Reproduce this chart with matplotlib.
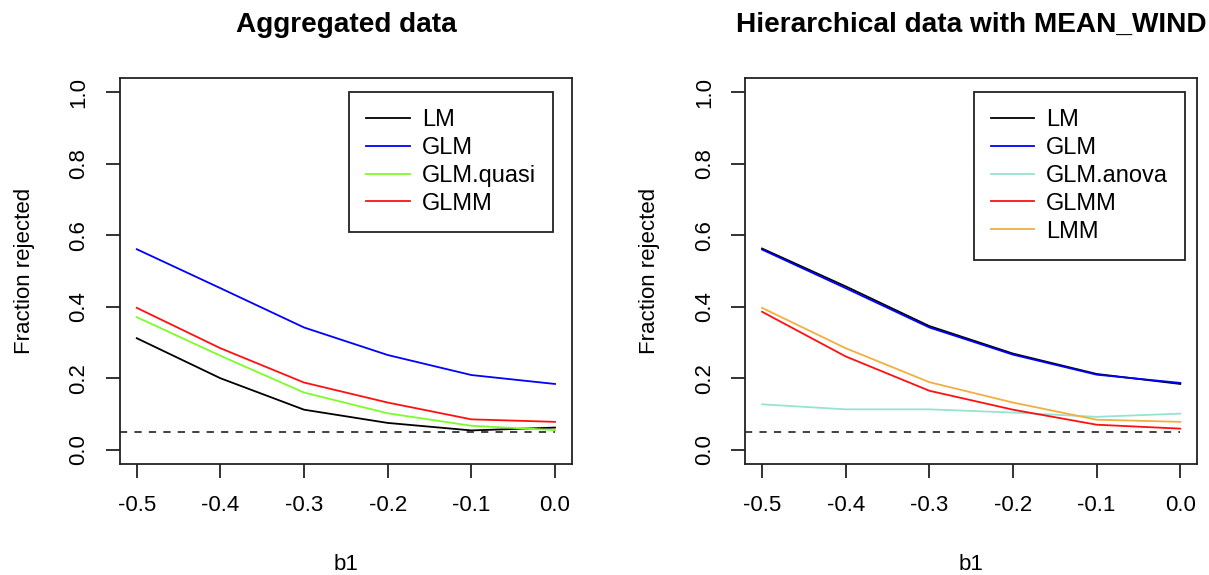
import matplotlib
matplotlib.use("Agg")
import matplotlib.pyplot as plt

# Daten
b1 = [-0.5, -0.4, -0.3, -0.2, -0.1, 0.0]

# Linke Grafik: aggregierte Daten
agg_lm = [0.312, 0.200, 0.112, 0.075, 0.054, 0.062]
agg_glm = [0.561, 0.452, 0.342, 0.265, 0.209, 0.184]
agg_glm_quasi = [0.371, 0.263, 0.160, 0.102, 0.067, 0.055]
agg_glmm = [0.397, 0.284, 0.188, 0.132, 0.085, 0.078]

# Rechte Grafik: hierarchische Daten
hier_lm = [0.563, 0.457, 0.346, 0.269, 0.212, 0.184]
hier_glm = [0.560, 0.452, 0.342, 0.266, 0.210, 0.187]
hier_glm_anova = [0.127, 0.113, 0.113, 0.104, 0.092, 0.101]
hier_glmm = [0.386, 0.261, 0.165, 0.112, 0.070, 0.059]
hier_lmm = [0.397, 0.284, 0.189, 0.132, 0.084, 0.078]

alpha = 0.05
xticks = [-0.5, -0.4, -0.3, -0.2, -0.1, 0.0]
yticks = [0.0, 0.2, 0.4, 0.6, 0.8, 1.0]

plt.rcParams["font.family"] = ["Liberation Sans", "DejaVu Sans"]
FS = 16
LW = 1.3

fig = plt.figure(figsize=(12.09, 5.75), dpi=100)
ax1 = fig.add_axes([0.0993, 0.193, 0.3736, 0.6713])
ax2 = fig.add_axes([0.6165, 0.193, 0.3736, 0.6713])


def style_axis(ax, title):
    ax.set_xlim(-0.52, 0.02)
    ax.set_ylim(-0.04, 1.04)
    ax.set_xticks(xticks)
    ax.set_xticklabels([f"{t:.1f}" for t in xticks])
    ax.set_yticks(yticks)
    ax.set_yticklabels([f"{t:.1f}" for t in yticks], rotation=90, va="center")
    ax.tick_params(direction="out", length=10, width=LW, labelsize=FS, color="#222222")
    ax.tick_params(axis="x", pad=12)
    ax.tick_params(axis="y", pad=12)
    for sp in ax.spines.values():
        sp.set_linewidth(LW)
        sp.set_color("#222222")
    ax.set_title(title, fontsize=20.2, fontweight="bold", pad=33)
    ax.set_xlabel("b1", fontsize=FS, labelpad=28)
    ax.set_ylabel("Fraction rejected", fontsize=FS, labelpad=24)
    ax.plot([-0.52, 0.0], [alpha, alpha], color="#333333", lw=LW, dashes=(4, 4))


def add_legend(ax, x_right):
    leg = ax.legend(loc="upper right", bbox_to_anchor=(x_right, 0.9637),
                    borderaxespad=0, fontsize=17, frameon=True, fancybox=False,
                    edgecolor="#222222", framealpha=1, handlelength=1.85,
                    handletextpad=0.5, labelspacing=0.25, borderpad=0.72)
    leg.get_frame().set_linewidth(LW)


# Linke Grafik
ax1.plot(b1, agg_lm, color="black", lw=LW, label="LM")
ax1.plot(b1, agg_glm, color="#0000FF", lw=LW, label="GLM")
ax1.plot(b1, agg_glm_quasi, color="#7CFC2A", lw=LW, label="GLM.quasi")
ax1.plot(b1, agg_glmm, color="#FF1010", lw=LW, label="GLMM")
style_axis(ax1, "Aggregated data")
add_legend(ax1, 0.9586)

# Rechte Grafik
ax2.plot(b1, hier_lm, color="black", lw=LW, label="LM")
ax2.plot(b1, hier_glm, color="#0000FF", lw=LW, label="GLM")
ax2.plot(b1, hier_glm_anova, color="#96E3D3", lw=LW, label="GLM.anova")
ax2.plot(b1, hier_glmm, color="#FF1010", lw=LW, label="GLMM")
ax2.plot(b1, hier_lmm, color="#F2AE3F", lw=LW, label="LMM")
style_axis(ax2, "Hierarchical data with MEAN_WIND")
add_legend(ax2, 0.9734)

fig.savefig("out.png", dpi=100)
